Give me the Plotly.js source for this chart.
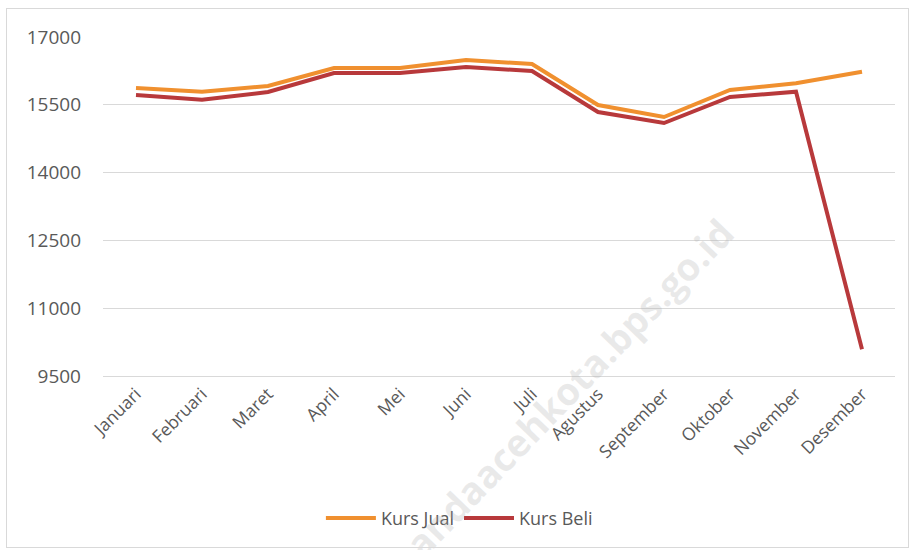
<!DOCTYPE html>
<html>
<head>
<meta charset="utf-8">
<script src="https://cdn.plot.ly/plotly-3.0.1.min.js"></script>
<style>
  html, body { margin: 0; padding: 0; background: #ffffff; }
  #chart { width: 914px; height: 550px; position: absolute; left: 0; top: 0; }
  #frame { position: absolute; left: 6px; top: 8px; width: 901px; height: 538px; border: 1px solid #d9d9d9; pointer-events: none; }
</style>
</head>
<body>
<div id="chart"></div>
<div id="frame"></div>
<script>
const months = ["Januari", "Februari", "Maret", "April", "Mei", "Juni", "Juli", "Agustus", "September", "Oktober", "November", "Desember"];
const kursJual = [15872, 15790, 15916, 16314, 16314, 16491, 16403, 15496, 15230, 15827, 15975, 16230];
const kursBeli = [15717, 15610, 15783, 16204, 16204, 16336, 16248, 15341, 15097, 15673, 15790, 10090];
const yTicks = [9500, 11000, 12500, 14000, 15500, 17000];

const traces = [
  { x: months, y: kursJual, type: "scatter", mode: "lines", name: "Kurs Jual",
    line: { color: "#F0902F", width: 4 } },
  { x: months, y: kursBeli, type: "scatter", mode: "lines", name: "Kurs Beli",
    line: { color: "#B8393B", width: 4 } }
];

const layout = {
  width: 914, height: 550,
  margin: { l: 103, r: 19, t: 37, b: 174 },
  paper_bgcolor: "#ffffff", plot_bgcolor: "#ffffff",
  font: { family: "Open Sans, sans-serif", color: "#595959", size: 18 },
  showlegend: true,
  legend: { orientation: "h", x: 0.45, xanchor: "center", y: -0.365, yanchor: "top",
            font: { size: 18, color: "#595959" }, itemwidth: 50, tracegroupgap: 0 },
  xaxis: { type: "category", range: [-0.5, 11.5], tickangle: -45, showgrid: false,
           showline: true, linecolor: "#d9d9d9", linewidth: 1, ticks: "",
           tickfont: { size: 17.5, color: "#595959" }, fixedrange: true },
  yaxis: { range: [9500, 17000], tickvals: yTicks, ticktext: yTicks.map(String),
           showgrid: true, gridcolor: "#d9d9d9", gridwidth: 1, zeroline: false,
           showline: false, ticks: "", ticklabelstandoff: 21,
           tickfont: { size: 19, color: "#595959" }, fixedrange: true },
  annotations: [
    { text: "<b>bandaacehkota.bps.go.id</b>", xref: "paper", yref: "paper",
      x: 0.578, y: -0.06, xanchor: "center", yanchor: "middle", showarrow: false, textangle: -46,
      font: { size: 38, color: "rgba(170,170,170,0.25)", family: "Open Sans, sans-serif" } }
  ]
};

Plotly.newPlot("chart", traces, layout, { displayModeBar: false, staticPlot: true });
</script>
</body>
</html>
